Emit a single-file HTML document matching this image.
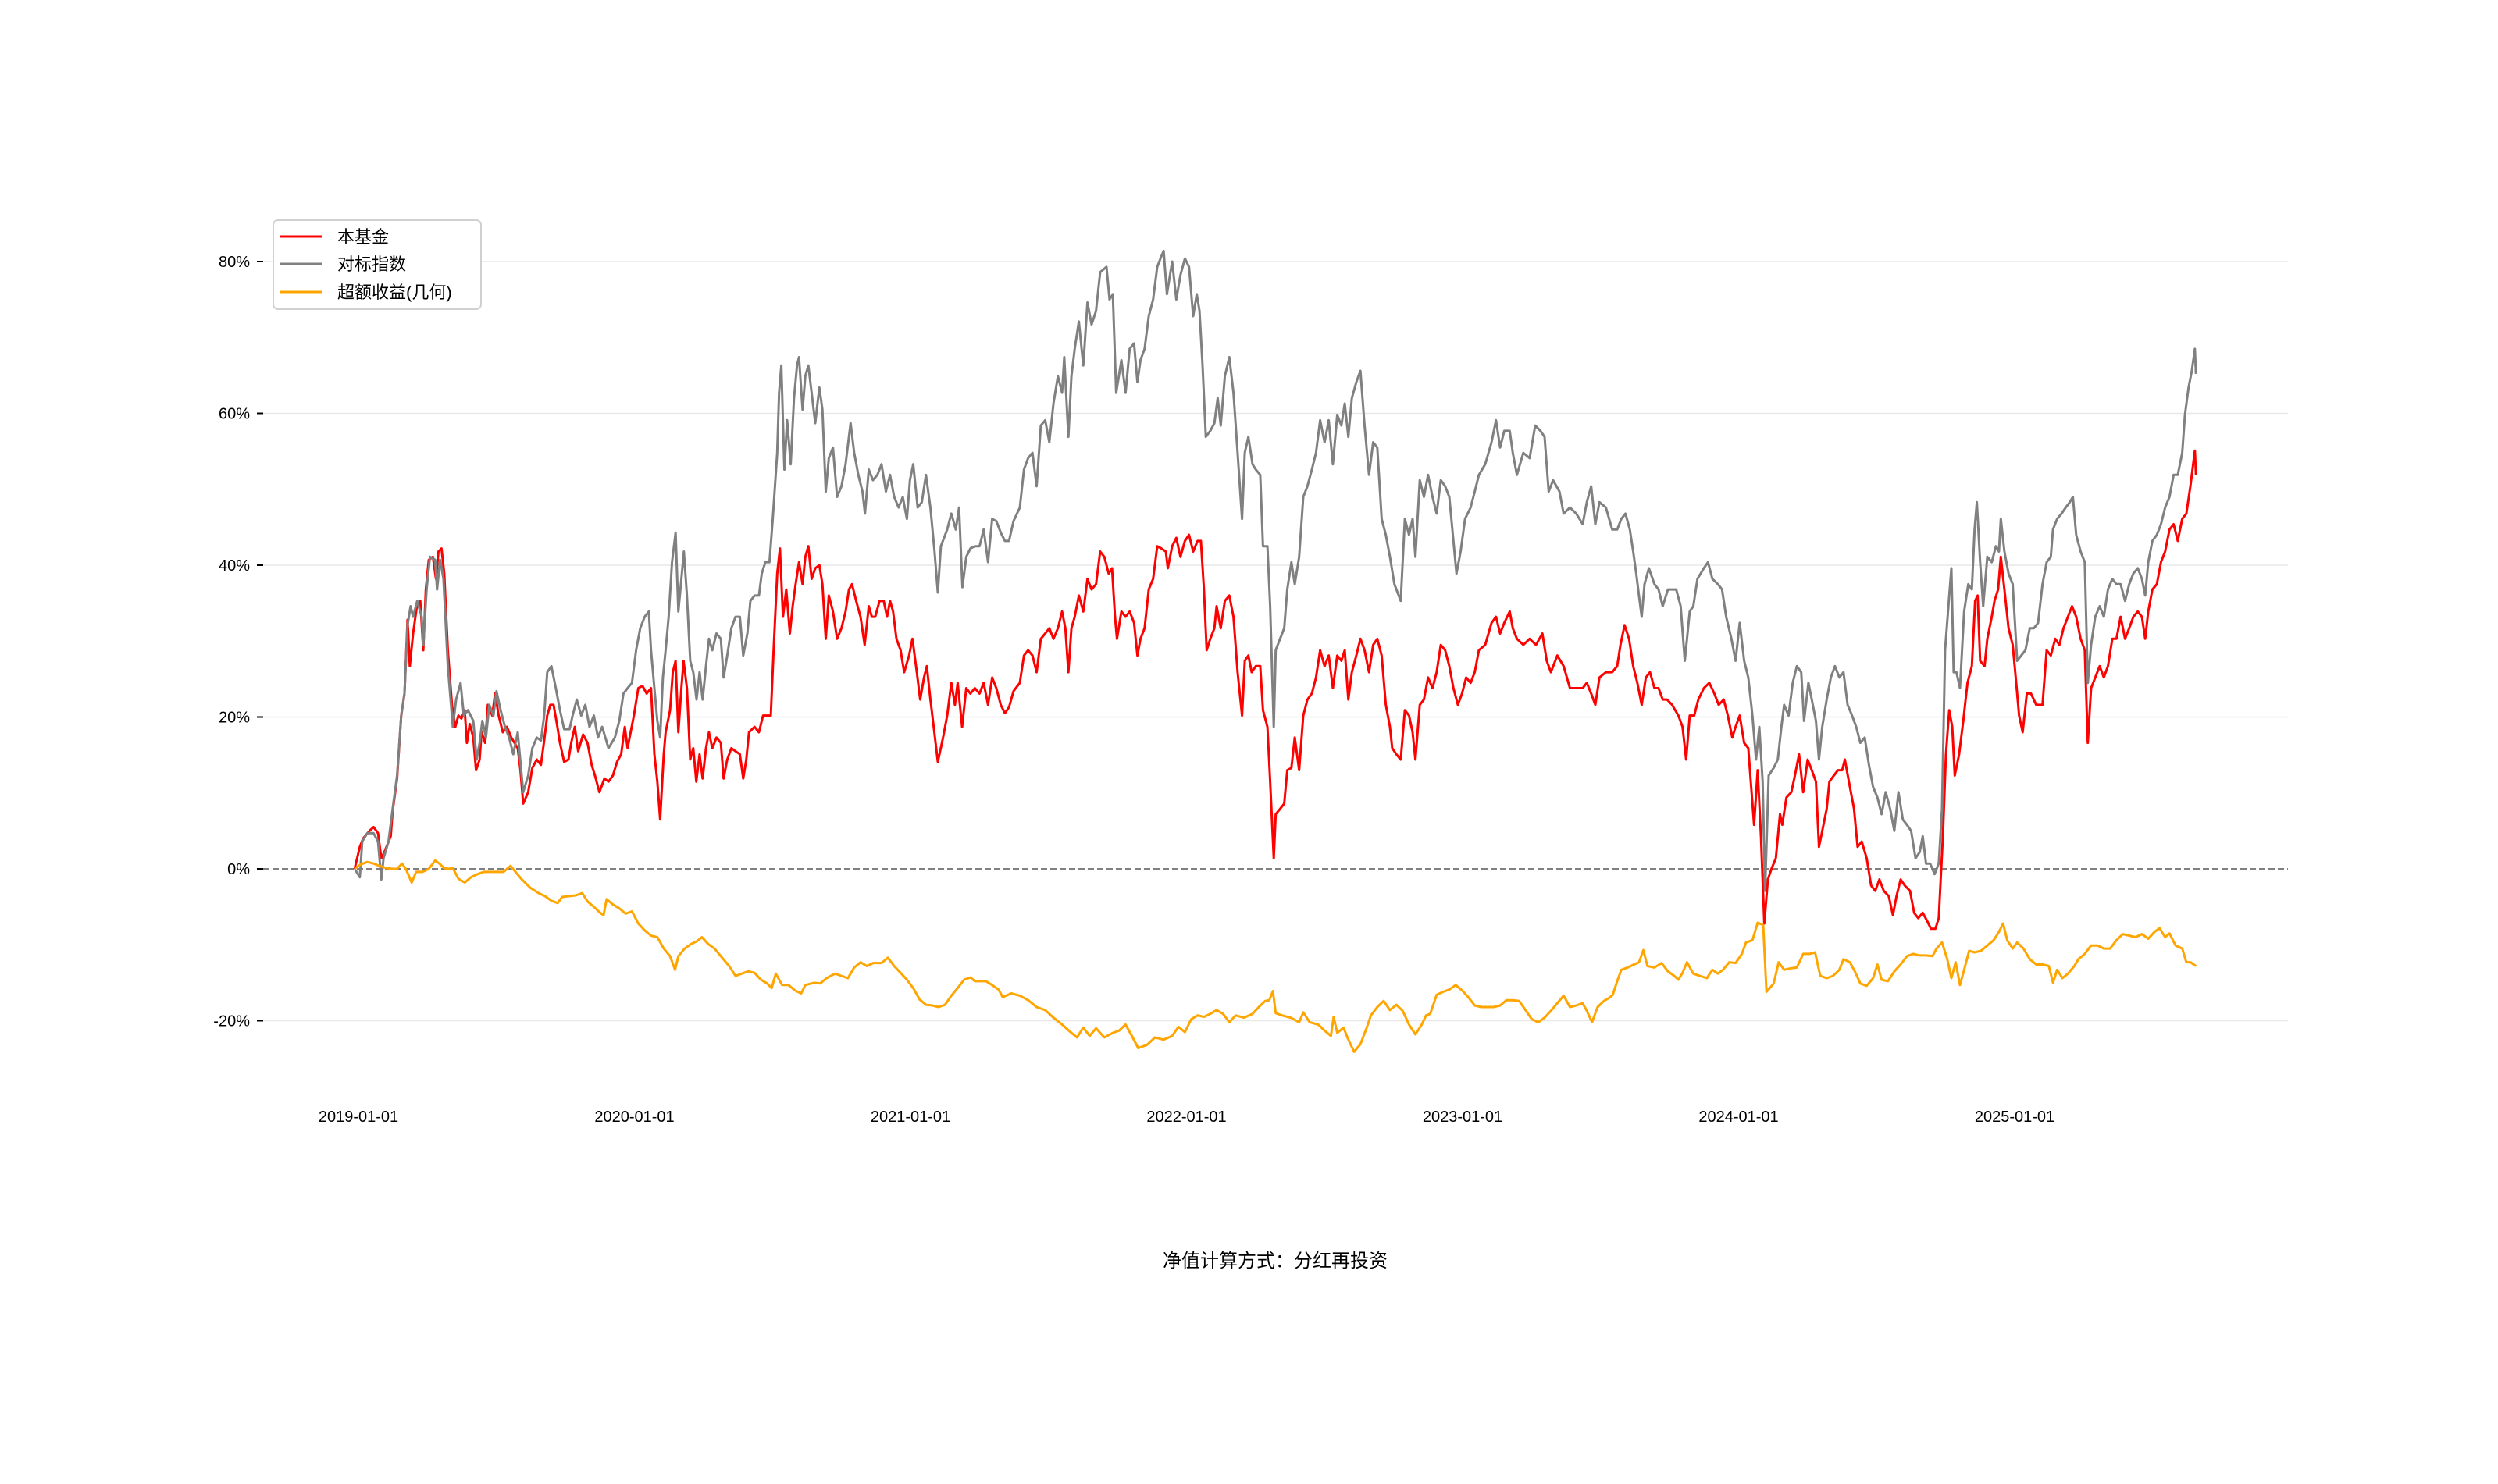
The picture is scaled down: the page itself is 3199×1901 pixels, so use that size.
<!DOCTYPE html>
<html><head><meta charset="utf-8"><style>
html,body{margin:0;padding:0;background:#fff;}
svg text{font-family:"Liberation Sans","Noto Sans CJK SC",sans-serif;fill:#000;}
</style></head><body>
<svg id="chart" width="3199" height="1896" viewBox="0 0 3199 1896" xmlns="http://www.w3.org/2000/svg">
<rect width="3199" height="1896" fill="#fff"/>
<g id="grid"></g><g id="axes"></g><g id="series"></g>
<g>
<rect x="350" y="282" width="266" height="114" rx="6" fill="#fff" fill-opacity="0.9" stroke="#d0d0d0" stroke-width="2"/>
<line x1="358" y1="303" x2="412" y2="303" stroke="#ff0000" stroke-width="3"/>
<text x="432" y="311" font-size="22">本基金</text>
<line x1="358" y1="338" x2="412" y2="338" stroke="#808080" stroke-width="3"/>
<text x="432" y="346" font-size="22">对标指数</text>
<line x1="358" y1="374" x2="412" y2="374" stroke="#ffa500" stroke-width="3"/>
<text x="432" y="382" font-size="22">超额收益(几何)</text>
</g>
<text x="1633" y="1623" font-size="24" text-anchor="middle">净值计算方式：分红再投资</text>
</svg>
<script>
const yTicks=[80,60,40,20,0,-20];
const yTickLabels=["80%","60%","40%","20%","0%","-20%"];
const xTicks=[2019,2020,2021,2022,2023,2024,2025];
const xTickLabels=["2019-01-01","2020-01-01","2021-01-01","2022-01-01","2023-01-01","2024-01-01","2025-01-01"];

const fundT=[2018.986,2019.005,2019.017,2019.040,2019.055,2019.071,2019.083,2019.094,2019.117,2019.124,2019.140,2019.155,2019.167,2019.178,2019.186,2019.198,2019.212,2019.224,2019.235,2019.244,2019.255,2019.270,2019.281,2019.290,2019.301,2019.311,2019.324,2019.339,2019.351,2019.362,2019.373,2019.385,2019.393,2019.403,2019.416,2019.426,2019.439,2019.446,2019.459,2019.469,2019.485,2019.495,2019.508,2019.523,2019.538,2019.554,2019.577,2019.587,2019.597,2019.615,2019.630,2019.646,2019.661,2019.673,2019.684,2019.695,2019.707,2019.719,2019.730,2019.745,2019.761,2019.771,2019.784,2019.796,2019.814,2019.830,2019.845,2019.857,2019.873,2019.891,2019.906,2019.922,2019.937,2019.952,2019.965,2019.975,2019.986,2019.998,2020.014,2020.029,2020.044,2020.060,2020.072,2020.083,2020.093,2020.106,2020.113,2020.129,2020.139,2020.149,2020.159,2020.170,2020.178,2020.190,2020.202,2020.213,2020.224,2020.236,2020.247,2020.259,2020.270,2020.282,2020.297,2020.313,2020.323,2020.336,2020.351,2020.366,2020.382,2020.394,2020.405,2020.415,2020.435,2020.451,2020.466,2020.481,2020.494,2020.504,2020.517,2020.527,2020.538,2020.550,2020.563,2020.573,2020.584,2020.596,2020.609,2020.619,2020.630,2020.642,2020.655,2020.670,2020.681,2020.693,2020.704,2020.719,2020.734,2020.750,2020.765,2020.777,2020.788,2020.803,2020.819,2020.834,2020.849,2020.860,2020.872,2020.888,2020.903,2020.915,2020.926,2020.937,2020.949,2020.964,2020.977,2020.995,2021.007,2021.023,2021.035,2021.049,2021.059,2021.072,2021.084,2021.099,2021.118,2021.133,2021.148,2021.161,2021.171,2021.187,2021.202,2021.217,2021.233,
2021.250,2021.265,2021.281,2021.296,2021.311,2021.327,2021.342,2021.357,2021.373,2021.396,2021.411,2021.426,2021.442,2021.457,2021.472,2021.488,2021.503,2021.518,2021.534,2021.549,2021.561,2021.572,2021.583,2021.595,2021.610,2021.626,2021.641,2021.656,2021.672,2021.687,2021.702,2021.718,2021.730,2021.741,2021.748,2021.764,2021.779,2021.794,2021.810,2021.822,2021.833,2021.848,2021.863,2021.879,2021.894,2021.909,2021.925,2021.932,2021.948,2021.963,2021.978,2021.994,2022.009,2022.024,2022.040,2022.052,2022.063,2022.073,2022.086,2022.101,2022.109,2022.124,2022.139,2022.155,2022.170,2022.185,2022.201,2022.211,2022.224,2022.236,2022.251,2022.267,2022.277,2022.293,2022.303,2022.316,2022.323,2022.339,2022.354,2022.365,2022.380,2022.392,2022.408,2022.423,2022.438,2022.454,2022.469,2022.484,2022.500,2022.515,2022.530,2022.546,2022.561,2022.573,2022.586,2022.599,2022.615,2022.630,2022.645,2022.661,2022.676,2022.691,2022.707,2022.722,2022.737,2022.745,2022.760,2022.776,2022.791,2022.806,2022.819,2022.829,2022.845,2022.860,2022.875,2022.891,2022.906,2022.921,2022.937,2022.952,2022.967,2022.983,2022.998,2023.013,2023.029,2023.044,2023.059,2023.082,2023.105,2023.121,2023.136,2023.151,2023.171,2023.182,2023.197,2023.220,2023.243,2023.266,2023.289,2023.305,2023.320,2023.343,2023.366,2023.389,2023.412,2023.435,2023.450,2023.466,2023.481,2023.496,2023.519,2023.542,
2023.560,2023.572,2023.587,2023.603,2023.618,2023.633,2023.649,2023.664,2023.679,2023.695,2023.710,2023.725,2023.741,2023.759,2023.782,2023.797,2023.810,2023.823,2023.839,2023.854,2023.874,2023.894,2023.912,2023.928,2023.946,2023.961,2023.977,2023.989,2024.004,2024.020,2024.035,2024.044,2024.056,2024.069,2024.081,2024.093,2024.106,2024.119,2024.135,2024.150,2024.158,2024.173,2024.191,2024.204,2024.219,2024.234,2024.250,2024.265,2024.280,2024.291,2024.303,2024.319,2024.329,2024.345,2024.360,2024.375,2024.385,2024.403,2024.418,2024.431,2024.446,2024.464,2024.480,2024.495,2024.510,2024.526,2024.544,2024.559,2024.572,2024.587,2024.602,2024.621,2024.636,2024.651,2024.667,2024.682,2024.697,2024.713,2024.725,2024.740,2024.751,2024.763,2024.774,2024.783,2024.799,2024.814,2024.829,2024.845,2024.857,2024.866,2024.875,2024.891,2024.901,2024.917,2024.927,2024.940,2024.950,2024.963,2024.978,2024.993,2025.004,2025.016,2025.029,2025.044,2025.059,2025.078,2025.101,2025.116,2025.131,2025.147,2025.162,2025.177,2025.193,2025.208,2025.223,2025.239,2025.254,2025.265,2025.277,2025.292,2025.308,2025.323,2025.338,2025.354,2025.369,2025.384,2025.400,2025.415,2025.430,2025.446,2025.461,2025.473,2025.484,2025.499,2025.515,2025.530,2025.545,2025.561,2025.576,2025.591,2025.607,2025.622,2025.637,2025.653,2025.657];
const fundV=[0,2.9,4.0,5.0,5.5,4.7,1.4,2.2,4.3,7.6,11.9,20.2,23.1,32.8,26.7,31.0,34.6,35.3,28.8,36.8,40.7,41.1,38.2,41.8,42.2,38.9,28.8,21.6,18.7,20.2,19.8,20.9,16.6,19.1,17.3,13.0,14.4,18.0,16.6,21.6,20.2,23.1,20.2,18.0,18.7,17.3,15.9,13.0,8.6,10.1,13.3,14.4,13.7,16.9,20.2,21.6,21.6,19.1,16.6,14.1,14.4,16.6,18.7,15.5,17.7,16.6,13.7,12.3,10.1,11.9,11.5,12.3,14.1,15.1,18.7,15.9,18.0,20.2,23.8,24.1,23.1,23.8,15.1,11.5,6.5,15.1,18.0,20.9,25.9,27.4,18.0,23.8,27.4,23.8,14.4,15.9,11.5,15.1,11.9,15.9,18.0,15.9,17.3,16.6,11.9,14.4,15.9,15.5,15.1,11.9,14.4,18.0,18.7,18.0,20.2,20.2,20.2,28.8,38.9,42.2,33.2,36.8,31.0,34.6,37.5,40.4,37.5,41.1,42.5,38.2,39.6,40.0,37.5,30.3,36.0,33.9,30.3,31.7,33.9,36.8,37.5,35.3,33.2,29.5,34.6,33.2,33.2,35.3,35.3,33.2,35.3,33.9,30.3,28.8,25.9,28.1,30.3,25.9,22.3,25.2,26.7,22.3,18.7,14.1,17.3,20.2,24.5,21.6,24.5,18.7,23.8,23.1,23.8,
23.1,24.5,21.6,25.2,23.8,21.6,20.5,21.3,23.4,24.5,28.1,28.8,28.1,25.9,30.3,31.0,31.7,30.3,31.7,33.9,31.7,25.9,31.7,33.2,36.0,33.9,38.2,36.8,37.5,41.8,41.1,38.9,39.6,33.2,30.3,33.9,33.2,33.9,32.4,28.1,30.3,31.7,36.8,38.2,42.5,42.2,41.8,39.6,42.5,43.6,41.1,43.2,44.0,41.8,43.2,43.2,36.8,28.8,30.3,31.7,34.6,31.7,35.3,36.0,33.2,25.9,20.2,27.4,28.1,25.9,26.7,26.7,20.9,18.7,11.5,1.4,7.2,7.9,8.6,13.0,13.3,17.3,13.0,20.2,22.3,23.1,25.2,28.8,26.7,28.1,23.8,28.1,27.4,28.8,22.3,25.9,28.1,30.3,28.8,25.9,29.5,30.3,28.1,21.6,18.7,15.9,15.1,14.4,20.9,20.2,18.0,14.4,21.6,22.3,25.2,23.8,25.9,29.5,28.8,26.7,23.8,21.6,23.1,25.2,24.5,25.9,28.8,29.5,32.4,33.2,31.0,32.4,33.9,31.7,30.3,29.5,30.3,29.5,31.0,27.4,25.9,28.1,26.7,23.8,23.8,23.8,24.5,23.1,21.6,25.2,25.9,25.9,
26.7,29.5,32.1,30.3,26.7,24.5,21.6,25.2,25.9,23.8,23.8,22.3,22.3,21.6,20.2,18.7,14.4,20.2,20.2,22.3,23.8,24.5,23.1,21.6,22.3,20.2,17.3,18.7,20.2,16.6,15.9,11.5,5.8,13.0,4.3,-7.2,-1.4,0,1.4,7.2,5.8,9.4,10.1,12.3,15.1,10.1,14.4,13.0,11.5,2.9,5.0,7.9,11.5,12.3,13.0,13.0,14.4,10.8,7.9,2.9,3.6,1.4,-2.2,-2.9,-1.4,-2.9,-3.6,-6.1,-3.6,-1.4,-2.2,-2.9,-5.8,-6.5,-5.8,-6.8,-7.9,-7.9,-6.5,4.3,15.1,20.9,18.7,12.3,15.1,19.5,24.5,26.7,35.3,36.0,27.4,26.7,30.3,33.2,35.3,36.8,41.1,36.8,31.7,29.5,25.2,20.2,18.0,23.1,23.1,21.6,21.6,28.8,28.1,30.3,29.5,31.7,33.2,34.6,33.2,30.3,28.8,16.6,23.8,25.2,26.7,25.2,26.7,30.3,30.3,33.2,30.3,31.7,33.2,33.9,33.2,30.3,33.9,36.8,37.5,40.4,41.8,44.7,45.4,43.2,46.1,46.8,50.5,55.1,51.9];

const indexT=[2018.986,2019.005,2019.014,2019.032,2019.055,2019.071,2019.083,2019.091,2019.109,2019.124,2019.140,2019.155,2019.167,2019.178,2019.189,2019.198,2019.213,2019.229,2019.235,2019.247,2019.259,2019.278,2019.285,2019.296,2019.308,2019.324,2019.342,2019.354,2019.370,2019.382,2019.397,2019.416,2019.428,2019.439,2019.449,2019.462,2019.474,2019.489,2019.500,2019.515,2019.531,2019.546,2019.561,2019.577,2019.597,2019.615,2019.630,2019.646,2019.661,2019.673,2019.684,2019.699,2019.715,2019.730,2019.745,2019.765,2019.776,2019.791,2019.807,2019.822,2019.837,2019.853,2019.868,2019.883,2019.906,2019.929,2019.945,2019.960,2019.975,2019.991,2020.006,2020.021,2020.037,2020.052,2020.060,2020.072,2020.083,2020.093,2020.103,2020.113,2020.124,2020.136,2020.149,2020.159,2020.170,2020.179,2020.190,2020.202,2020.213,2020.225,2020.236,2020.247,2020.259,2020.270,2020.282,2020.297,2020.313,2020.323,2020.336,2020.351,2020.366,2020.382,2020.394,2020.409,2020.420,2020.435,2020.451,2020.461,2020.474,2020.489,2020.501,2020.517,2020.524,2020.532,2020.543,2020.553,2020.566,2020.578,2020.589,2020.596,2020.609,2020.619,2020.630,2020.642,2020.655,2020.670,2020.681,2020.693,2020.704,2020.719,2020.734,2020.750,2020.765,2020.783,2020.796,2020.811,2020.826,2020.835,2020.849,2020.864,2020.880,2020.895,2020.911,2020.926,2020.941,2020.957,2020.972,2020.987,2020.998,2021.010,2021.026,2021.041,2021.056,2021.072,2021.087,2021.099,2021.110,2021.133,2021.148,2021.164,2021.176,2021.188,2021.202,2021.217,2021.233,
2021.250,2021.265,2021.281,2021.296,2021.311,2021.327,2021.342,2021.357,2021.373,2021.396,2021.411,2021.426,2021.442,2021.457,2021.472,2021.488,2021.503,2021.518,2021.534,2021.549,2021.557,2021.572,2021.583,2021.595,2021.610,2021.626,2021.641,2021.656,2021.672,2021.687,2021.710,2021.721,2021.733,2021.745,2021.764,2021.779,2021.794,2021.810,2021.822,2021.833,2021.848,2021.863,2021.879,2021.894,2021.909,2021.917,2021.929,2021.948,2021.963,2021.978,2021.994,2022.009,2022.024,2022.037,2022.047,2022.058,2022.070,2022.086,2022.101,2022.113,2022.124,2022.139,2022.155,2022.170,2022.185,2022.201,2022.211,2022.224,2022.239,2022.251,2022.267,2022.277,2022.293,2022.303,2022.316,2022.323,2022.339,2022.354,2022.365,2022.380,2022.392,2022.408,2022.423,2022.438,2022.454,2022.469,2022.484,2022.500,2022.515,2022.530,2022.546,2022.561,2022.573,2022.586,2022.599,2022.615,2022.630,2022.645,2022.661,2022.676,2022.691,2022.707,2022.722,2022.737,2022.753,2022.776,2022.791,2022.806,2022.819,2022.829,2022.845,2022.860,2022.875,2022.891,2022.906,2022.921,2022.937,2022.952,2022.967,2022.978,2022.993,2023.009,2023.029,2023.044,2023.059,2023.082,2023.105,2023.121,2023.136,2023.151,2023.171,2023.182,2023.197,2023.220,2023.243,2023.263,2023.282,2023.297,2023.312,2023.328,2023.351,2023.366,2023.389,2023.412,2023.435,2023.450,2023.466,2023.481,2023.496,2023.519,2023.542,
2023.560,2023.575,2023.590,2023.606,2023.618,2023.629,2023.639,2023.649,2023.659,2023.675,2023.695,2023.710,2023.725,2023.744,2023.774,2023.790,2023.805,2023.823,2023.836,2023.851,2023.874,2023.889,2023.905,2023.925,2023.940,2023.955,2023.974,2023.989,2024.004,2024.020,2024.035,2024.050,2024.063,2024.075,2024.087,2024.096,2024.109,2024.127,2024.142,2024.155,2024.165,2024.181,2024.196,2024.211,2024.227,2024.237,2024.253,2024.265,2024.280,2024.291,2024.303,2024.319,2024.334,2024.349,2024.365,2024.380,2024.395,2024.411,2024.426,2024.441,2024.457,2024.472,2024.487,2024.503,2024.518,2024.533,2024.549,2024.564,2024.579,2024.595,2024.610,2024.625,2024.641,2024.656,2024.667,2024.679,2024.694,2024.710,2024.725,2024.737,2024.748,2024.760,2024.771,2024.779,2024.789,2024.802,2024.817,2024.832,2024.845,2024.855,2024.863,2024.875,2024.886,2024.901,2024.917,2024.932,2024.943,2024.950,2024.963,2024.978,2024.993,2025.009,2025.024,2025.039,2025.055,2025.070,2025.085,2025.101,2025.116,2025.131,2025.139,2025.154,2025.170,2025.185,2025.200,2025.211,2025.223,2025.239,2025.254,2025.265,2025.277,2025.292,2025.308,2025.323,2025.338,2025.354,2025.369,2025.384,2025.400,2025.415,2025.430,2025.446,2025.461,2025.473,2025.484,2025.499,2025.515,2025.530,2025.545,2025.561,2025.576,2025.591,2025.607,2025.617,2025.630,2025.642,2025.653,2025.657];
const indexV=[0,-1.1,3.6,4.7,4.7,3.6,-1.4,1.4,3.6,7.9,12.3,20.2,23.1,32.1,34.6,33.2,35.3,33.2,29.5,36.8,41.1,40.7,36.8,40.7,38.2,26.7,18.7,22.3,24.5,20.2,20.9,19.5,14.4,16.6,19.5,17.3,21.6,20.2,23.4,20.9,18.7,17.3,15.1,18.0,10.1,12.3,15.9,17.3,16.9,20.2,25.9,26.7,23.8,20.9,18.4,18.4,20.2,22.3,20.2,21.6,18.7,20.2,17.3,18.7,15.9,17.3,19.5,23.1,23.8,24.5,28.8,31.7,33.2,33.9,28.8,23.8,19.5,17.3,25.2,28.8,33.2,40.4,44.3,33.9,38.2,41.8,36.0,27.4,25.9,22.3,25.9,22.3,26.7,30.3,28.8,31.0,30.3,25.2,28.1,31.7,33.2,33.2,28.1,31.0,35.3,36.0,36.0,38.9,40.4,40.4,46.1,54.8,62.7,66.3,52.6,59.1,53.3,62.0,66.3,67.4,60.5,64.9,66.3,62.7,58.7,63.4,60.5,49.7,54.1,55.5,49.0,50.4,53.3,58.7,54.8,51.9,49.7,46.8,52.6,51.2,51.9,53.3,49.7,51.9,49.0,47.6,49.0,46.1,51.2,53.3,47.6,48.3,51.9,47.6,41.8,36.4,42.5,44.7,46.8,44.7,47.6,37.1,41.1,42.2,42.5,
42.5,44.7,40.4,46.1,45.8,44.3,43.2,43.2,45.8,47.6,52.6,54.1,54.8,50.4,58.4,59.1,56.2,61.3,64.9,62.7,67.4,56.9,64.9,68.5,72.1,66.3,74.6,71.7,73.5,78.6,79.3,75.0,75.7,62.7,67.0,62.7,68.5,69.2,64.1,67.0,68.5,72.8,75.0,79.3,80.7,81.4,75.7,80.0,75.0,78.2,80.4,79.3,72.8,75.7,73.5,66.3,56.9,57.7,58.7,62.0,58.4,64.9,67.4,62.7,54.8,46.1,54.8,56.9,53.3,52.6,51.9,42.5,42.5,34.6,18.7,28.8,30.3,31.7,36.8,40.4,37.5,41.1,49.0,50.4,52.6,54.8,59.1,56.2,59.1,53.3,59.8,58.4,61.3,56.9,62.0,64.1,65.6,58.4,51.9,56.2,55.5,46.1,44.0,41.1,37.5,35.3,46.1,44.0,46.1,41.1,51.2,49.0,51.9,49.0,46.8,51.2,50.4,49.0,43.2,38.9,41.8,46.1,47.6,49.7,51.9,53.3,56.2,59.1,55.5,57.7,57.7,54.8,51.9,54.8,54.1,58.4,57.7,56.9,49.7,51.2,49.7,46.8,47.6,46.8,45.4,48.3,50.4,45.4,48.3,47.6,44.7,
44.7,46.1,46.8,44.7,41.8,38.9,36.0,33.2,37.5,39.6,37.5,36.8,34.6,36.8,36.8,34.6,27.4,33.9,34.6,38.2,39.6,40.4,38.2,37.5,36.8,33.2,30.3,27.4,32.4,27.4,25.2,20.2,14.4,18.7,11.5,-2.9,12.3,13.3,14.4,18.7,21.6,20.2,24.5,26.7,25.9,19.5,24.5,22.3,19.5,14.4,18.7,22.3,25.2,26.7,25.2,25.9,21.6,20.2,18.7,16.6,17.3,13.7,10.8,9.4,7.2,10.1,7.9,5.0,10.1,6.5,5.8,5.0,1.4,2.2,4.3,0.7,0.7,-0.7,0.7,7.9,28.8,34.6,39.6,25.9,25.9,23.8,33.9,37.5,36.8,44.7,48.3,40.4,34.6,41.1,40.4,42.5,41.8,46.1,41.8,38.9,37.5,27.4,28.1,28.8,31.7,31.7,32.4,37.5,40.4,41.1,44.7,46.1,46.8,47.6,48.3,49.0,44.0,41.8,40.4,24.5,29.5,33.2,34.6,33.2,36.8,38.2,37.5,37.5,35.3,37.5,38.9,39.6,38.2,36.0,40.4,43.2,44.0,45.4,47.6,49.0,51.9,51.9,54.8,59.8,63.4,65.6,68.5,65.2];

const excessT=[2018.986,2019.009,2019.032,2019.055,2019.075,2019.101,2019.124,2019.140,2019.158,2019.173,2019.193,2019.209,2019.232,2019.255,2019.278,2019.293,2019.311,2019.327,2019.342,2019.362,2019.385,2019.408,2019.431,2019.454,2019.477,2019.500,2019.526,2019.551,2019.569,2019.592,2019.623,2019.653,2019.676,2019.699,2019.722,2019.738,2019.761,2019.787,2019.811,2019.830,2019.853,2019.876,2019.888,2019.899,2019.922,2019.945,2019.968,2019.991,2020.014,2020.037,2020.060,2020.083,2020.106,2020.129,2020.147,2020.159,2020.182,2020.205,2020.228,2020.244,2020.267,2020.290,2020.313,2020.343,2020.366,2020.389,2020.412,2020.435,2020.458,2020.481,2020.497,2020.512,2020.535,2020.558,2020.581,2020.604,2020.619,2020.650,2020.673,2020.696,2020.727,2020.750,2020.773,2020.796,2020.819,2020.842,2020.865,2020.895,2020.918,2020.941,2020.964,2020.987,2021.010,2021.033,2021.056,2021.079,2021.102,2021.125,2021.148,2021.171,2021.194,2021.217,2021.233,
2021.250,2021.273,2021.296,2021.319,2021.334,2021.365,2021.396,2021.426,2021.457,2021.488,2021.518,2021.549,2021.580,2021.603,2021.626,2021.649,2021.672,2021.702,2021.733,2021.756,2021.779,2021.802,2021.825,2021.856,2021.886,2021.917,2021.948,2021.971,2021.994,2022.017,2022.040,2022.063,2022.086,2022.109,2022.132,2022.155,2022.178,2022.208,2022.239,2022.262,2022.285,2022.300,2022.313,2022.323,2022.346,2022.377,2022.408,2022.423,2022.446,2022.477,2022.500,2022.523,2022.533,2022.546,2022.569,2022.584,2022.607,2022.630,2022.653,2022.668,2022.691,2022.714,2022.737,2022.760,2022.783,2022.806,2022.829,2022.852,2022.868,2022.883,2022.906,2022.929,2022.952,2022.975,2022.998,2023.021,2023.044,2023.067,2023.090,2023.113,2023.136,2023.159,2023.182,2023.205,2023.228,2023.251,2023.274,2023.297,2023.320,2023.343,2023.366,2023.389,2023.412,2023.435,2023.450,2023.469,2023.489,2023.512,2023.535,
2023.544,2023.560,2023.575,2023.598,2023.621,2023.639,2023.655,2023.670,2023.695,2023.721,2023.744,2023.767,2023.782,2023.797,2023.813,2023.836,2023.859,2023.885,2023.905,2023.925,2023.943,2023.966,2023.989,2024.012,2024.027,2024.050,2024.069,2024.089,2024.101,2024.127,2024.145,2024.165,2024.188,2024.211,2024.234,2024.257,2024.277,2024.296,2024.319,2024.342,2024.365,2024.380,2024.403,2024.421,2024.441,2024.464,2024.487,2024.503,2024.518,2024.541,2024.564,2024.587,2024.610,2024.633,2024.656,2024.679,2024.702,2024.717,2024.737,2024.756,2024.771,2024.786,2024.802,2024.817,2024.835,2024.855,2024.878,2024.901,2024.924,2024.943,2024.958,2024.973,2024.993,2025.009,2025.032,2025.055,2025.078,2025.101,2025.124,2025.139,2025.154,2025.173,2025.193,2025.216,2025.231,2025.254,2025.277,2025.300,2025.323,2025.346,2025.369,2025.392,2025.415,2025.438,2025.461,2025.484,2025.507,2025.525,2025.545,2025.561,2025.583,2025.607,2025.622,2025.637,2025.657];
const excessV=[0,0.6,0.9,0.7,0.4,0.1,0,0,0.7,-0.1,-1.8,-0.4,-0.4,0,1.1,0.7,0.1,0,0.1,-1.3,-1.8,-1.1,-0.7,-0.4,-0.4,-0.4,-0.4,0.4,-0.4,-1.4,-2.5,-3.2,-3.6,-4.2,-4.5,-3.7,-3.6,-3.5,-3.2,-4.3,-5.0,-5.8,-6.1,-4.0,-4.7,-5.2,-5.9,-5.6,-7.2,-8.1,-8.8,-9.0,-10.5,-11.5,-13.3,-11.5,-10.5,-9.9,-9.5,-9.0,-9.9,-10.5,-11.5,-12.8,-14.1,-13.8,-13.5,-13.7,-14.6,-15.1,-15.7,-13.8,-15.3,-15.3,-16.0,-16.4,-15.3,-15.0,-15.1,-14.4,-13.8,-14.1,-14.4,-13.0,-12.3,-12.8,-12.4,-12.4,-11.7,-12.8,-13.7,-14.6,-15.7,-17.2,-17.9,-18.0,-18.2,-17.9,-16.7,-15.7,-14.6,-14.3,-14.8,
-14.8,-14.8,-15.3,-15.9,-16.9,-16.4,-16.7,-17.3,-18.2,-18.6,-19.6,-20.5,-21.5,-22.2,-20.9,-22.0,-21.0,-22.2,-21.6,-21.3,-20.5,-22.0,-23.6,-23.2,-22.2,-22.5,-22.0,-20.8,-21.5,-19.8,-19.3,-19.5,-19.1,-18.6,-19.1,-20.2,-19.3,-19.6,-19.1,-18.2,-17.4,-17.3,-16.1,-19.0,-19.3,-19.6,-20.2,-18.9,-20.2,-20.5,-21.3,-22.0,-19.5,-21.6,-20.9,-22.3,-24.1,-23.1,-20.9,-19.3,-18.2,-17.4,-18.6,-17.9,-18.7,-20.5,-21.8,-20.5,-19.3,-19.1,-16.6,-16.2,-15.9,-15.3,-16.0,-16.9,-18.0,-18.2,-18.2,-18.2,-18.0,-17.3,-17.3,-17.4,-18.6,-19.8,-20.2,-19.6,-18.7,-17.7,-16.7,-18.2,-18.0,-17.7,-18.7,-20.2,-18.2,-17.4,-16.9,
-16.6,-14.8,-13.3,-13.0,-12.6,-12.3,-10.7,-12.8,-13.0,-12.4,-13.5,-14.1,-14.6,-13.7,-12.3,-13.8,-14.1,-14.4,-13.3,-13.8,-13.3,-12.3,-12.4,-11.2,-9.7,-9.4,-7.1,-7.4,-16.2,-15.1,-12.3,-13.3,-13.1,-13.0,-11.2,-11.2,-11.0,-14.1,-14.4,-14.1,-13.3,-11.9,-12.3,-13.5,-15.1,-15.4,-14.4,-12.6,-14.6,-14.8,-13.5,-12.6,-11.5,-11.2,-11.4,-11.4,-11.5,-10.5,-9.7,-11.9,-14.4,-12.3,-15.3,-13.3,-10.8,-11.0,-10.8,-10.1,-9.4,-8.3,-7.2,-9.4,-10.5,-9.7,-10.5,-11.9,-12.6,-12.6,-12.8,-15.0,-13.3,-14.4,-13.8,-12.8,-11.9,-11.2,-10.1,-10.1,-10.5,-10.5,-9.4,-8.6,-8.8,-9.0,-8.6,-9.2,-8.3,-7.8,-9.0,-8.5,-10.1,-10.5,-12.3,-12.3,-12.8];

const X0=459, PX_PER_YEAR=353.5, Y0=1113, PX_PER_PCT=9.725, PLOT_L=337, PLOT_R=2930;
function xScale(t){return X0+(t-2019)*PX_PER_YEAR;}
function yScale(v){return Y0-v*PX_PER_PCT;}
const NS="http://www.w3.org/2000/svg";
function mk(tag,parent){const e=document.createElementNS(NS,tag);parent.appendChild(e);return e;}
const grid=document.getElementById('grid'),axes=document.getElementById('axes'),series=document.getElementById('series');

yTicks.forEach((v,i)=>{
  const y=yScale(v);
  if(v!==0){
    const g=mk('line',grid);
    
    
    g.setAttribute('x1',PLOT_L);g.setAttribute('x2',PLOT_R);g.setAttribute('y1',y);g.setAttribute('y2',y);
    g.setAttribute('stroke','#e8e8e8');g.setAttribute('stroke-width','1.5');
  }
  const tk=mk('line',axes);
  
  
  tk.setAttribute('x1',329);tk.setAttribute('x2',337);tk.setAttribute('y1',y);tk.setAttribute('y2',y);
  tk.setAttribute('stroke','#000');tk.setAttribute('stroke-width','2');
  const t=mk('text',axes);
  
  
  t.setAttribute('x',320);t.setAttribute('y',y+7);t.setAttribute('font-size','20');t.setAttribute('text-anchor','end');
  t.textContent=yTickLabels[i];
});
const zl=mk('line',grid);


zl.setAttribute('x1',PLOT_L);zl.setAttribute('x2',PLOT_R);zl.setAttribute('y1',yScale(0));zl.setAttribute('y2',yScale(0));
zl.setAttribute('stroke','#808080');zl.setAttribute('stroke-width','2');zl.setAttribute('stroke-dasharray','8,4');

xTicks.forEach((yr,i)=>{
  const t=mk('text',axes);
  
  
  t.setAttribute('x',xScale(yr));t.setAttribute('y',1437);t.setAttribute('font-size','20');t.setAttribute('text-anchor','middle');
  t.textContent=xTickLabels[i];
});

function drawLine(T,V,color,name){
  const p=mk('path',series);
  
  
  p.setAttribute('d',T.map((t,i)=>(i?'L':'M')+xScale(t).toFixed(1)+','+yScale(V[i]).toFixed(1)).join(''));
  p.setAttribute('fill','none');p.setAttribute('stroke',color);p.setAttribute('stroke-width','3');p.setAttribute('stroke-linejoin','round');
}
drawLine(fundT,fundV,'#ff0000','fund-line');
drawLine(indexT,indexV,'#808080','index-line');
drawLine(excessT,excessV,'#ffa500','excess-return-line');
</script>
</body></html>
